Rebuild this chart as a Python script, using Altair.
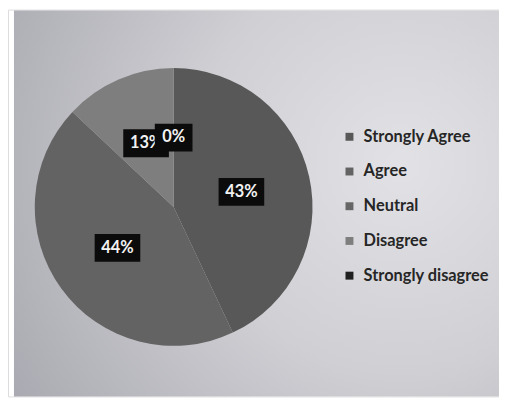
import altair as alt
import pandas as pd

categories = ["Strongly Agree", "Agree", "Neutral", "Disagree", "Strongly disagree"]
values = [43, 44, 0, 13, 0]
labels = ["43%", "44%", "", "13%", "0%"]
colors = ["#585858", "#636363", "#666666", "#7e7e7e", "#1f1f1f"]

df = pd.DataFrame({"cat": categories, "value": values, "label": labels,
                   "idx": list(range(len(categories)))})

W, H = 495, 390
CX, CY = 167, 199
R_LABEL = 70

bg = alt.Chart(alt.Data(values=[{}])).mark_rect(
    color=alt.Gradient(
        gradient="radial",
        x1=0.8, y1=0.42, r1=0.0,
        x2=0.8, y2=0.42, r2=0.95,
        stops=[alt.GradientStop(color="#e2e2e6", offset=0),
               alt.GradientStop(color="#cfcfd4", offset=0.45),
               alt.GradientStop(color="#a8a8b0", offset=1)],
    )
).encode(x=alt.value(6), x2=alt.value(W), y=alt.value(1), y2=alt.value(H))

pie = alt.Chart(df).mark_arc(outerRadius=140).encode(
    theta=alt.Theta("value:Q", stack=True),
    order=alt.Order("idx:Q"),
    x=alt.value(CX), y=alt.value(CY),
    color=alt.Color("cat:N",
                    scale=alt.Scale(domain=categories, range=colors),
                    sort=categories,
                    legend=alt.Legend(title=None, orient="none",
                                      legendX=336, legendY=120,
                                      direction="vertical",
                                      symbolType="square", symbolSize=64,
                                      symbolStrokeWidth=0,
                                      labelFont="Lato", labelFontSize=16.5,
                                      labelFontWeight="bold",
                                      labelColor="#262626",
                                      labelOffset=6, rowPadding=18)),
)

lab = (alt.Chart(df)
       .transform_window(cum="sum(value)", sort=[alt.SortField("idx")], frame=[None, 0])
       .transform_joinaggregate(total="sum(value)")
       .transform_calculate(
           mid="(datum.cum - datum.value/2) / datum.total * 2 * PI",
           bx=f"{CX} + {R_LABEL} * sin(datum.mid)",
           by=f"{CY} - {R_LABEL} * cos(datum.mid)",
           w="22 + 8 * length(datum.label)",
           x1="datum.bx - datum.w/2", x2="datum.bx + datum.w/2",
           y1="datum.by - 14", y2="datum.by + 14",
       )
       .transform_filter("datum.label != ''"))


def box(cond):
    return lab.transform_filter(cond).mark_rect(color="#0b0b0b").encode(
        x=alt.X("x1:Q", scale=None, axis=None), x2="x2:Q",
        y=alt.Y("y1:Q", scale=None, axis=None), y2="y2:Q")


def txt(cond):
    return lab.transform_filter(cond).mark_text(
        font="Lato", fontSize=16.5, fontWeight="bold", color="#f2f2f2",
        baseline="middle", align="center").encode(
        x=alt.X("bx:Q", scale=None, axis=None),
        y=alt.Y("by:Q", scale=None, axis=None),
        text="label:N")


chart = alt.layer(
    bg, pie,
    box("datum.idx < 4"), txt("datum.idx < 4"),
    box("datum.idx >= 4"), txt("datum.idx >= 4"),
).properties(
    width=W, height=H, padding=0,
    autosize=alt.AutoSizeParams(type="none"),
).configure_view(stroke=None).configure(background="white")

chart.save("out.html", embed_options={"renderer": "svg", "actions": False})
